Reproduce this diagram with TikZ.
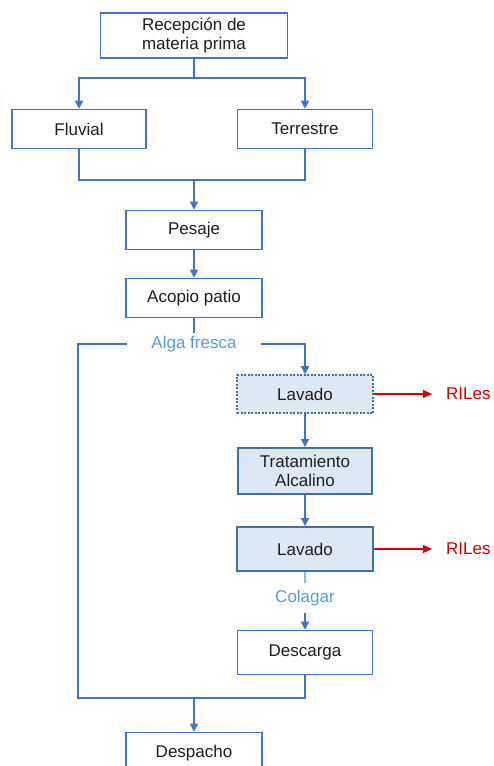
\documentclass[tikz,border=0pt]{standalone}
\usepackage{fontspec}
\setmainfont{Liberation Sans}
\usetikzlibrary{arrows.meta}
\definecolor{boxblue}{HTML}{4472C4}
\definecolor{darkblue}{HTML}{41719C}
\definecolor{fillblue}{HTML}{DEE8F5}
\definecolor{lblue}{HTML}{5B9BD5}
\definecolor{rred}{HTML}{D00000}
\definecolor{txt}{HTML}{1E1E1E}
\tikzset{
  procbox/.style={draw=boxblue, line width=1.6pt, fill=white, minimum width=136pt, minimum height=39pt,
    inner sep=0pt, align=center, text=txt, font=\fontsize{17}{19}\selectfont},
  shaded/.style={procbox, fill=fillblue, draw=darkblue, line width=2pt},
  dotbox/.style={procbox, fill=fillblue, draw=darkblue, line width=1.6pt, dash pattern=on 2pt off 1.5pt},
  conn/.style={draw=boxblue, line width=1.4pt},
  arr/.style={conn, -{Triangle[length=8pt,width=8pt]}},
  redarr/.style={draw=rred, line width=1.1pt, -{Triangle[length=9pt,width=8pt]}},
  lbl/.style={text=lblue, inner sep=0pt, font=\fontsize{17}{19}\selectfont},
  redlbl/.style={text=rred, anchor=west, inner sep=0pt, font=\fontsize{17}{19}\selectfont}
}
\begin{document}
\begin{tikzpicture}[x=1pt,y=-1pt]
\useasboundingbox (0,0) rectangle (494,766);
\node[procbox, minimum width=187pt, minimum height=45pt] (rec) at (194,35.5) {Recepción de\\materia prima};
\node[procbox, minimum width=134pt] (fluv) at (79,129) {Fluvial};
\node[procbox, minimum width=135pt] (terr) at (305,129) {Terrestre};
\node[procbox] (pes) at (194,230) {Pesaje};
\node[procbox] (aco) at (194,298) {Acopio patio};
\node[lbl, minimum width=133pt, minimum height=18pt] (alga) at (194,344) {Alga fresca};
\node[dotbox, minimum height=38pt] (lav1) at (305,394) {Lavado};
\node[shaded, minimum width=134pt, minimum height=46pt] (trat) at (305,471) {Tratamiento\\Alcalino};
\node[shaded, minimum height=44pt] (lav2) at (305,549) {Lavado};
\node[lbl, minimum height=30pt] (col) at (305,598) {Colagar};
\node[procbox, minimum width=135pt, minimum height=44pt] (desc) at (305,652.5) {Descarga};
\node[procbox, minimum height=41pt] (desp) at (194,753) {Despacho};
\node[redlbl] (ril1) at (446,394) {RILes};
\node[redlbl] (ril2) at (446,549) {RILes};

\coordinate (split) at (194,78);
\coordinate (merge) at (194,180);
\coordinate (acs) at (194,333);
\coordinate (lc) at (78,698);
\coordinate (join) at (194,698);

\draw[conn] (rec.south) -- (split);
\draw[arr] (split) -| (fluv.north);
\draw[arr] (split) -| (terr.north);
\draw[conn] (fluv.south) |- (merge);
\draw[conn] (terr.south) |- (merge);
\draw[arr] (merge) -- (pes.north);
\draw[arr] (pes.south) -- (aco.north);
\draw[conn] (aco.south) -- (acs);
\draw[arr] (alga.east) -| (lav1.north);
\draw[conn] (alga.west) -| (lc) -- (join);
\draw[arr] (lav1.south) -- (trat.north);
\draw[arr] (trat.south) -- (lav2.north);
\draw[conn, draw=lblue!70] (lav2.south) -- (col.north);
\draw[arr] (col.south) -- (desc.north);
\draw[conn] (desc.south) |- (join);
\draw[arr] (join) -- (desp.north);
\draw[redarr] (lav1.east) -- ([xshift=-14pt]ril1.west);
\draw[redarr] (lav2.east) -- ([xshift=-14pt]ril2.west);
\end{tikzpicture}
\end{document}
